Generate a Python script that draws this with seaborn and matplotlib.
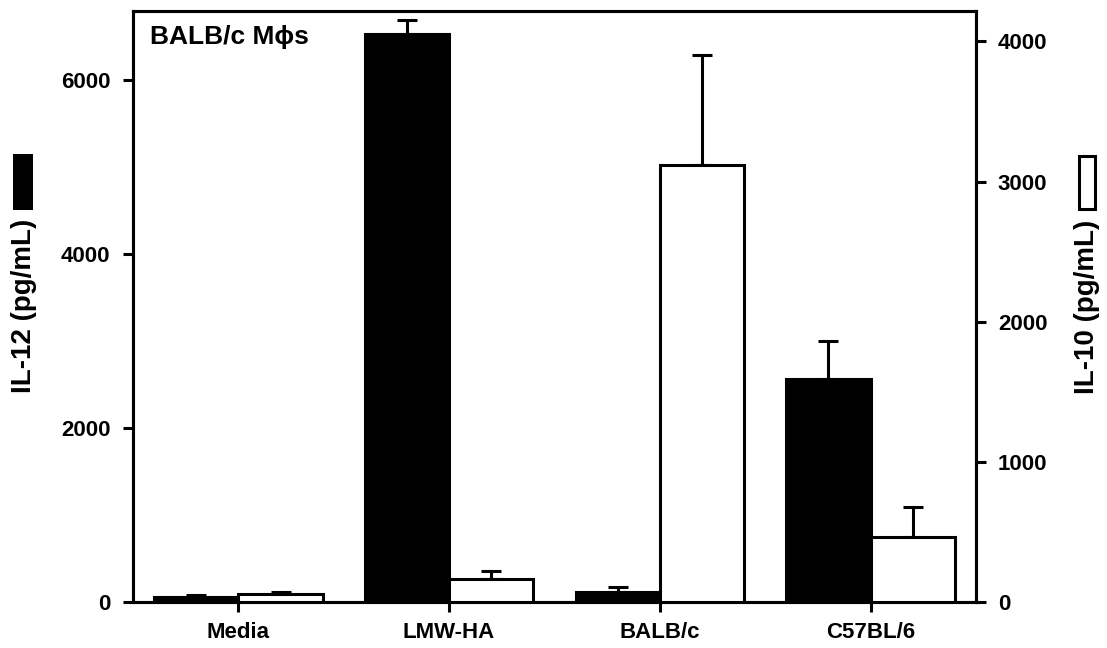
import matplotlib
matplotlib.use("Agg")
import matplotlib.pyplot as plt
from matplotlib.patches import Rectangle
import numpy as np
import pandas as pd
import seaborn as sns

# ---- data ----
groups = ["Media", "LMW-HA", "BALB/c", "C57BL/6"]
il12_mean = [60, 6530, 120, 2560]
il12_err = [25, 155, 57, 440]
il10_mean = [60, 165, 3120, 463]
il10_err = [12, 55, 780, 214]
left_ticks = [0, 2000, 4000, 6000]
right_ticks = [0, 1000, 2000, 3000, 4000]
title_text = "BALB/c M\u03d5s"
left_label = "IL-12 (pg/mL)"
right_label = "IL-10 (pg/mL)"
hue_levels = ["IL-12", "IL-10"]

sns.set_style("ticks")
plt.rcParams["font.family"] = ["Liberation Sans", "DejaVu Sans"]
plt.rcParams["font.weight"] = "bold"
plt.rcParams["text.color"] = "black"
plt.rcParams["xtick.color"] = "black"
plt.rcParams["ytick.color"] = "black"

W, H = 1107, 648
fig = plt.figure(figsize=(W / 100, H / 100), dpi=100)
ax1 = fig.add_axes([133 / W, 1 - 602.3 / H, (976 - 133) / W, (602.3 - 11) / H])
ax2 = ax1.twinx()

df12 = pd.DataFrame({"group": groups, "value": il12_mean, "cytokine": "IL-12"})
df10 = pd.DataFrame({"group": groups, "value": il10_mean, "cytokine": "IL-10"})
pal = {"IL-12": "black", "IL-10": "white"}
lw = 2.2
width = 0.8

for ax, df in ((ax1, df12), (ax2, df10)):
    sns.barplot(data=df, x="group", y="value", hue="cytokine", hue_order=hue_levels,
                order=groups, palette=pal, saturation=1, dodge=True, width=width,
                edgecolor="black", linewidth=lw, errorbar=None, legend=False, ax=ax,
                zorder=3)

idx = np.arange(len(groups))
off = width / 4
ax1.errorbar(idx - off, il12_mean, yerr=[np.zeros(len(groups)), il12_err], fmt="none",
             ecolor="black", elinewidth=lw, capsize=7.5, capthick=lw, zorder=2)
ax2.errorbar(idx + off, il10_mean, yerr=[np.zeros(len(groups)), il10_err], fmt="none",
             ecolor="black", elinewidth=lw, capsize=7.5, capthick=lw, zorder=2)

ax1.set_xlim(-0.5, len(groups) - 0.5)
ax1.set_ylim(0, 6793)
ax2.set_ylim(0, 4217)
ax1.set_yticks(left_ticks)
ax2.set_yticks(right_ticks)
ax1.set_xlabel("")
ax2.set_xlabel("")
ax1.set_ylabel("")
ax2.set_ylabel("")
ax1.set_xticks(idx)
ax1.set_xticklabels(groups)

for ax in (ax1, ax2):
    for s in ax.spines.values():
        s.set_visible(True)
        s.set_linewidth(lw)
        s.set_color("black")
ax1.tick_params(axis="both", direction="out", length=7.2, width=lw, labelsize=16,
                colors="black", labelcolor="black")
ax1.tick_params(axis="y", pad=9, right=False)
ax1.tick_params(axis="x", pad=7, top=False)
ax2.tick_params(axis="y", direction="out", length=7.2, width=lw, labelsize=16, pad=8.5,
                left=False, right=True, colors="black", labelcolor="black")
for lab in ax1.get_xticklabels() + ax1.get_yticklabels() + ax2.get_yticklabels():
    lab.set_fontweight("bold")

ax1.text((150 - 133) / 843, (602.3 - 44) / 591.3, title_text, transform=ax1.transAxes,
         fontsize=19, fontweight="bold", ha="left", va="baseline", color="black")

fig.text(24 / W, 1 - 306 / H, left_label, rotation=90, ha="center", va="center",
         fontsize=20, fontweight="bold", color="black")
fig.text(1087 / W, 1 - 307 / H, right_label, rotation=90, ha="center", va="center",
         fontsize=20, fontweight="bold", color="black")
fig.patches.append(Rectangle((13 / W, 1 - 210 / H), 20 / W, 56 / H, transform=fig.transFigure,
                             facecolor="black", edgecolor="black", linewidth=0))
fig.patches.append(Rectangle((1079 / W, 1 - 209 / H), 16 / W, 53 / H, transform=fig.transFigure,
                             facecolor="white", edgecolor="black", linewidth=lw))

fig.savefig("out.png", dpi=100)
